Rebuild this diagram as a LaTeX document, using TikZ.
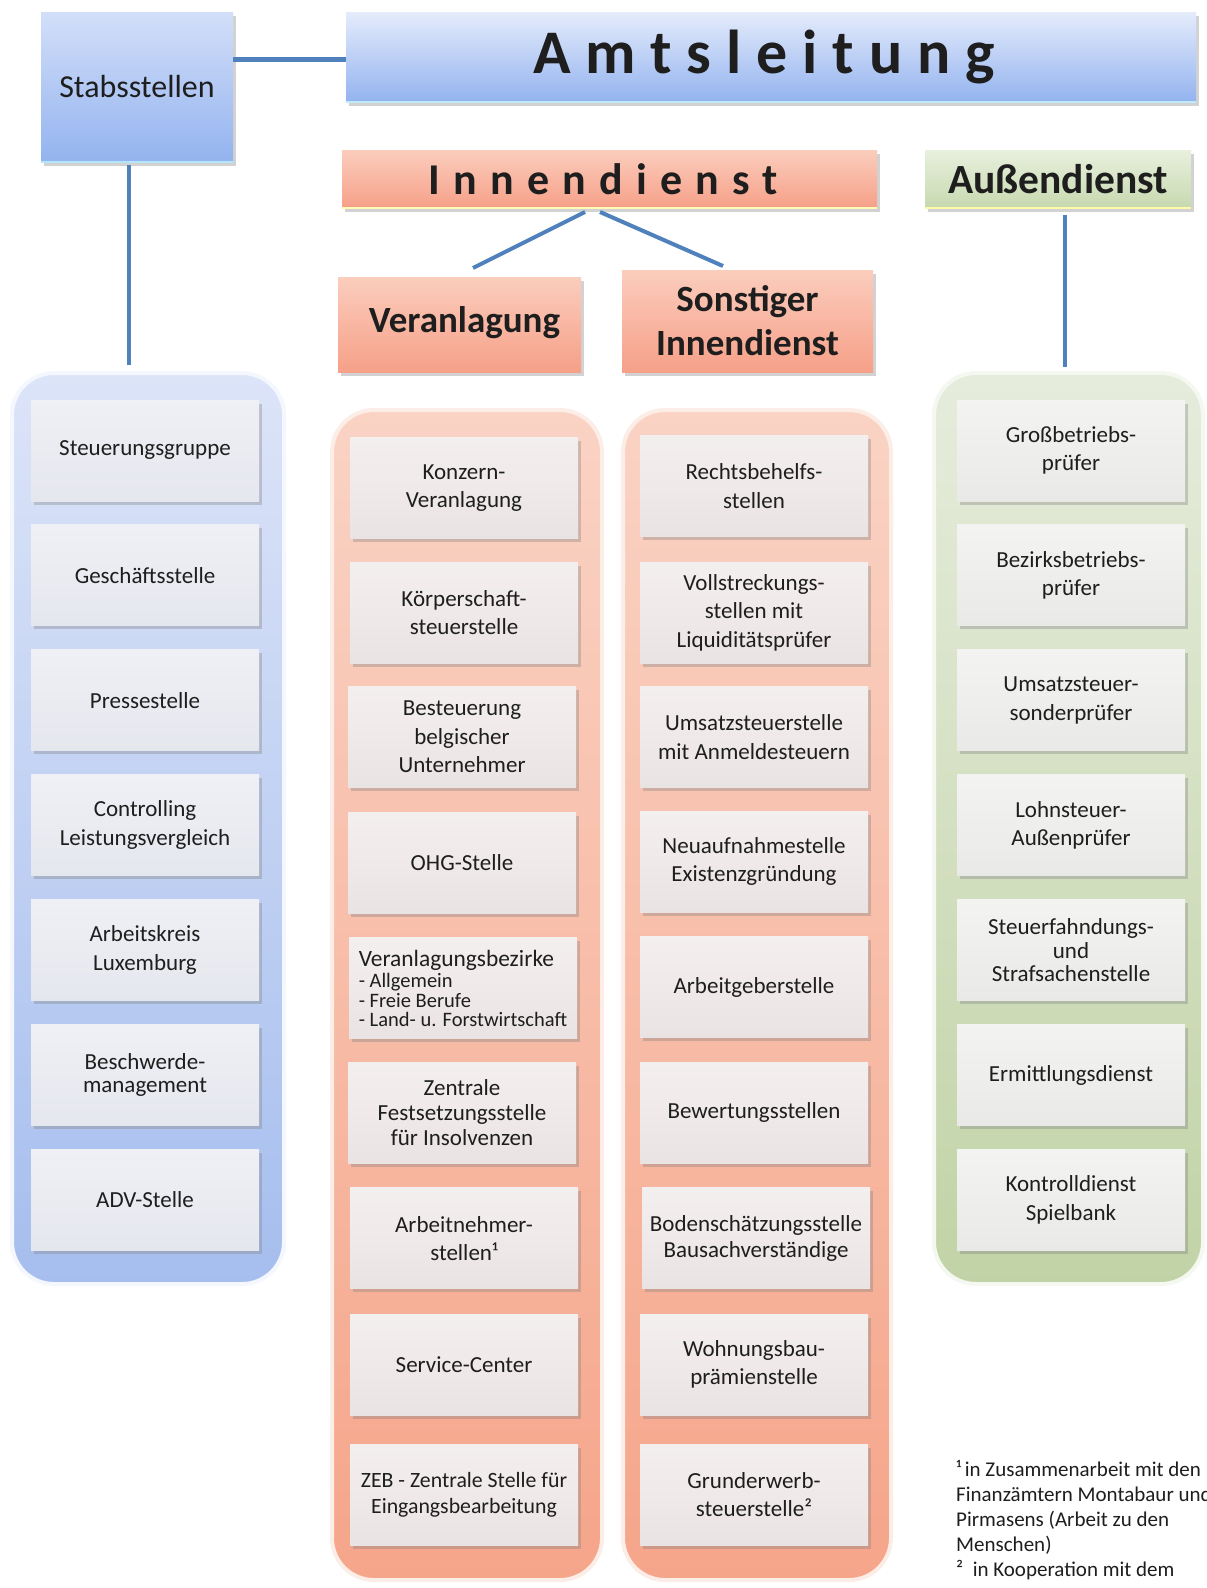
\documentclass[tikz,border=0pt]{standalone}
\usepackage{fontspec}
\setmainfont{Carlito}
\newfontfamily\spacedA[LetterSpace=30]{Carlito}
\newfontfamily\spacedB[LetterSpace=24]{Carlito}
\usetikzlibrary{shadows}
\definecolor{linec}{HTML}{4F81BD}
\definecolor{txt}{HTML}{1E1E1E}
\definecolor{blueT}{HTML}{DCE4F8}
\definecolor{blueB}{HTML}{A6BEEE}
\definecolor{salT}{HTML}{FAD3C4}
\definecolor{salB}{HTML}{F5A58A}
\definecolor{grnT}{HTML}{E6ECDC}
\definecolor{grnB}{HTML}{C1D3A6}
\definecolor{hbT}{HTML}{D3DFF9}
\definecolor{hbB}{HTML}{93B3EF}
\definecolor{hsT}{HTML}{FBCDBD}
\definecolor{hsB}{HTML}{F6A088}
\definecolor{hgT}{HTML}{E8F0DE}
\definecolor{hgB}{HTML}{C7D9AF}
\definecolor{ibT}{HTML}{EFF0F5}
\definecolor{ibB}{HTML}{E5E7EE}
\definecolor{isT}{HTML}{F4EFEF}
\definecolor{isB}{HTML}{EAE3E3}
\definecolor{igT}{HTML}{F3F3F2}
\definecolor{igB}{HTML}{E9E9E8}
\tikzset{
  shad/.style={drop shadow={shadow xshift=2.5pt, shadow yshift=-3.5pt, fill=black!50, opacity=0.35}},
  item/.style={rectangle, minimum width=228pt, minimum height=101pt, align=center,
    text=txt, font=\fontsize{23}{28.5}\selectfont, inner sep=2pt, shad},
  itemB/.style={item, top color=ibT, bottom color=ibB},
  itemS/.style={item, top color=isT, bottom color=isB},
  itemG/.style={item, top color=igT, bottom color=igB},
  headB/.style={rectangle, top color=hbT, bottom color=hbB, shad, text=txt, inner sep=0pt},
  headS/.style={rectangle, top color=hsT, bottom color=hsB, shad, text=txt, inner sep=0pt},
  headG/.style={rectangle, top color=hgT, bottom color=hgB, shad, text=txt, inner sep=0pt},
  conn/.style={draw=linec, line width=#1},
}
\begin{document}
\begin{tikzpicture}[x=1pt,y=-1pt]
\useasboundingbox (0,0) rectangle (1207,1588);
\fill[white] (0,0) rectangle (1207,1588);

% column containers
\shade[top color=blueT, bottom color=blueB, rounded corners=42pt] (12,373) rectangle (284,1284);
\draw[draw=white!70!blueT, line width=4pt, rounded corners=42pt] (12,373) rectangle (284,1284);
\shade[top color=salT, bottom color=salB, rounded corners=42pt] (332,410) rectangle (602,1580);
\draw[draw=white!60!salT, line width=4pt, rounded corners=42pt] (332,410) rectangle (602,1580);
\shade[top color=salT, bottom color=salB, rounded corners=42pt] (623,410) rectangle (891,1580);
\draw[draw=white!60!salT, line width=4pt, rounded corners=42pt] (623,410) rectangle (891,1580);
\shade[top color=grnT, bottom color=grnB, rounded corners=42pt] (934,373) rectangle (1203,1284);
\draw[draw=white!60!grnT, line width=4pt, rounded corners=42pt] (934,373) rectangle (1203,1284);

% header boxes
\node[headB, minimum width=192pt, minimum height=150pt, font=\fontsize{32}{36}\selectfont] (stab) at (137,87) {Stabsstellen};
\node[headB, minimum width=850pt, minimum height=90pt, top color=white!40!hbT, font=\fontsize{62}{66}\bfseries\spacedB] (amt) at (771,57) {\hspace*{-14pt}Amtsleitung};
\node[headS, minimum width=535pt, minimum height=58pt, font=\fontsize{44}{48}\bfseries\spacedA] (inn) at (609.5,179) {\hspace*{-12pt}Innendienst};
\node[headG, minimum width=266pt, minimum height=58pt, font=\fontsize{41.5}{44}\bfseries] (aus) at (1058,179) {Außendienst};
\node[headS, minimum width=243pt, minimum height=95pt, font=\fontsize{37}{40}\bfseries, text depth=0pt] (ver) at (459.5,324.5) {\hspace*{10pt}\raisebox{10pt}{Veranlagung}};
\node[headS, minimum width=251pt, minimum height=102pt, align=center, font=\fontsize{37}{44}\bfseries] (son) at (747.5,321) {Sonstiger\\Innendienst};
\draw[draw=cyan!30!white, line width=2.5pt] (stab.south west) -- (stab.south east);
\draw[draw=cyan!25!white, line width=2.5pt] (amt.south west) -- (amt.south east);
\draw[draw=yellow!30!white, line width=2pt] (inn.south west) -- (inn.south east);
\draw[draw=yellow!35!white, line width=2pt] (aus.south west) -- (aus.south east);

% connectors
\coordinate (innL) at (585,212);
\coordinate (innR) at (600,212);
\coordinate (verT) at (473,268);
\coordinate (sonT) at (723,266);
\coordinate (stabB) at (129,165);
\coordinate (blueTop) at (129,365);
\coordinate (ausB) at (1065,215);
\coordinate (grnTop) at (1065,367);
\draw[conn=5pt] (stab.east |- 0,59) -- (amt.west |- 0,59);
\draw[conn=3.5pt] (stabB) -- (blueTop);
\draw[conn=3.5pt] (ausB) -- (grnTop);
\draw[conn=4pt] (innL) -- (verT);
\draw[conn=4pt] (innR) -- (sonT);

% left column
\node[itemB] (l1) at (145,450.5) {Steuerungsgruppe};
\node[itemB] (l2) at (145,575.4) {Geschäftsstelle};
\node[itemB] (l3) at (145,700.3) {Pressestelle};
\node[itemB] (l4) at (145,825.2) {Controlling\\Leistungsvergleich};
\node[itemB] (l5) at (145,950.1) {Arbeitskreis\\Luxemburg};
\node[itemB, font=\fontsize{23}{23.5}\selectfont] (l6) at (145,1075) {Beschwerde-\\management};
\node[itemB] (l7) at (145,1199.9) {ADV-Stelle};

% middle column
\node[itemS, align=left, font=\fontsize{20.5}{19.3}\selectfont] (m5) at (463,988.3)
  {{\fontsize{23.4}{24}\selectfont Veranlagungsbezirke}\\[2pt]
   - Allgemein\\- Freie Berufe\\- Land- u. Forstwirtschaft};
\node[itemS] (m1) at (464,488) {Konzern-\\Veranlagung};
\node[itemS] (m2) at (464,612.6) {Körperschaft-\\steuerstelle};
\node[itemS] (m3) at (462,737) {Besteuerung\\belgischer\\Unternehmer};
\node[itemS] (m4) at (462,862.7) {OHG-Stelle};
\node[itemS, font=\fontsize{23}{25}\selectfont] (m6) at (462,1112.8) {Zentrale\\Festsetzungsstelle\\für Insolvenzen};
\node[itemS] (m7) at (464,1238.4) {Arbeitnehmer-\\stellen¹};
\node[itemS] (m8) at (464,1364.5) {Service-Center};
\node[itemS, font=\fontsize{21.8}{26}\selectfont] (m9) at (464,1494.6) {ZEB - Zentrale Stelle für\\Eingangsbearbeitung};

% right column
\node[itemS] (r1) at (754,486) {Rechtsbehelfs-\\stellen};
\node[itemS] (r2) at (754,612.6) {Vollstreckungs-\\stellen mit\\Liquiditätsprüfer};
\node[itemS] (r3) at (754,737) {Umsatzsteuerstelle\\mit Anmeldesteuern};
\node[itemS] (r4) at (754,861.7) {Neuaufnahmestelle\\Existenzgründung};
\node[itemS] (r5) at (754,987.3) {Arbeitgeberstelle};
\node[itemS] (r6) at (754,1112.8) {Bewertungsstellen};
\node[itemS, font=\fontsize{23}{25.5}\selectfont] (r7) at (756,1238.4) {Bodenschätzungsstelle\\Bausachverständige};
\node[itemS] (r8) at (754,1364.5) {Wohnungsbau-\\prämienstelle};
\node[itemS] (r9) at (754,1494.6) {Grunderwerb-\\steuerstelle²};

% green column
\node[itemG] (g1) at (1071,450.5) {Großbetriebs-\\prüfer};
\node[itemG] (g2) at (1071,575.4) {Bezirksbetriebs-\\prüfer};
\node[itemG] (g3) at (1071,700.3) {Umsatzsteuer-\\sonderprüfer};
\node[itemG] (g4) at (1071,825.2) {Lohnsteuer-\\Außenprüfer};
\node[itemG, font=\fontsize{23}{23.5}\selectfont] (g5) at (1071,950.1) {Steuerfahndungs-\\und\\Strafsachenstelle};
\node[itemG] (g6) at (1071,1075) {Ermittlungsdienst};
\node[itemG] (g7) at (1071,1199.9) {Kontrolldienst\\Spielbank};

% footnote
\node[anchor=north west, align=left, inner sep=0pt, text=txt, font=\fontsize{21}{25}\selectfont] (fn) at (956,1460)
 {¹\,in Zusammenarbeit mit den\\Finanzämtern Montabaur und\\Pirmasens (Arbeit zu den\\Menschen)\\²\ \ in Kooperation mit dem};
\end{tikzpicture}
\end{document}
